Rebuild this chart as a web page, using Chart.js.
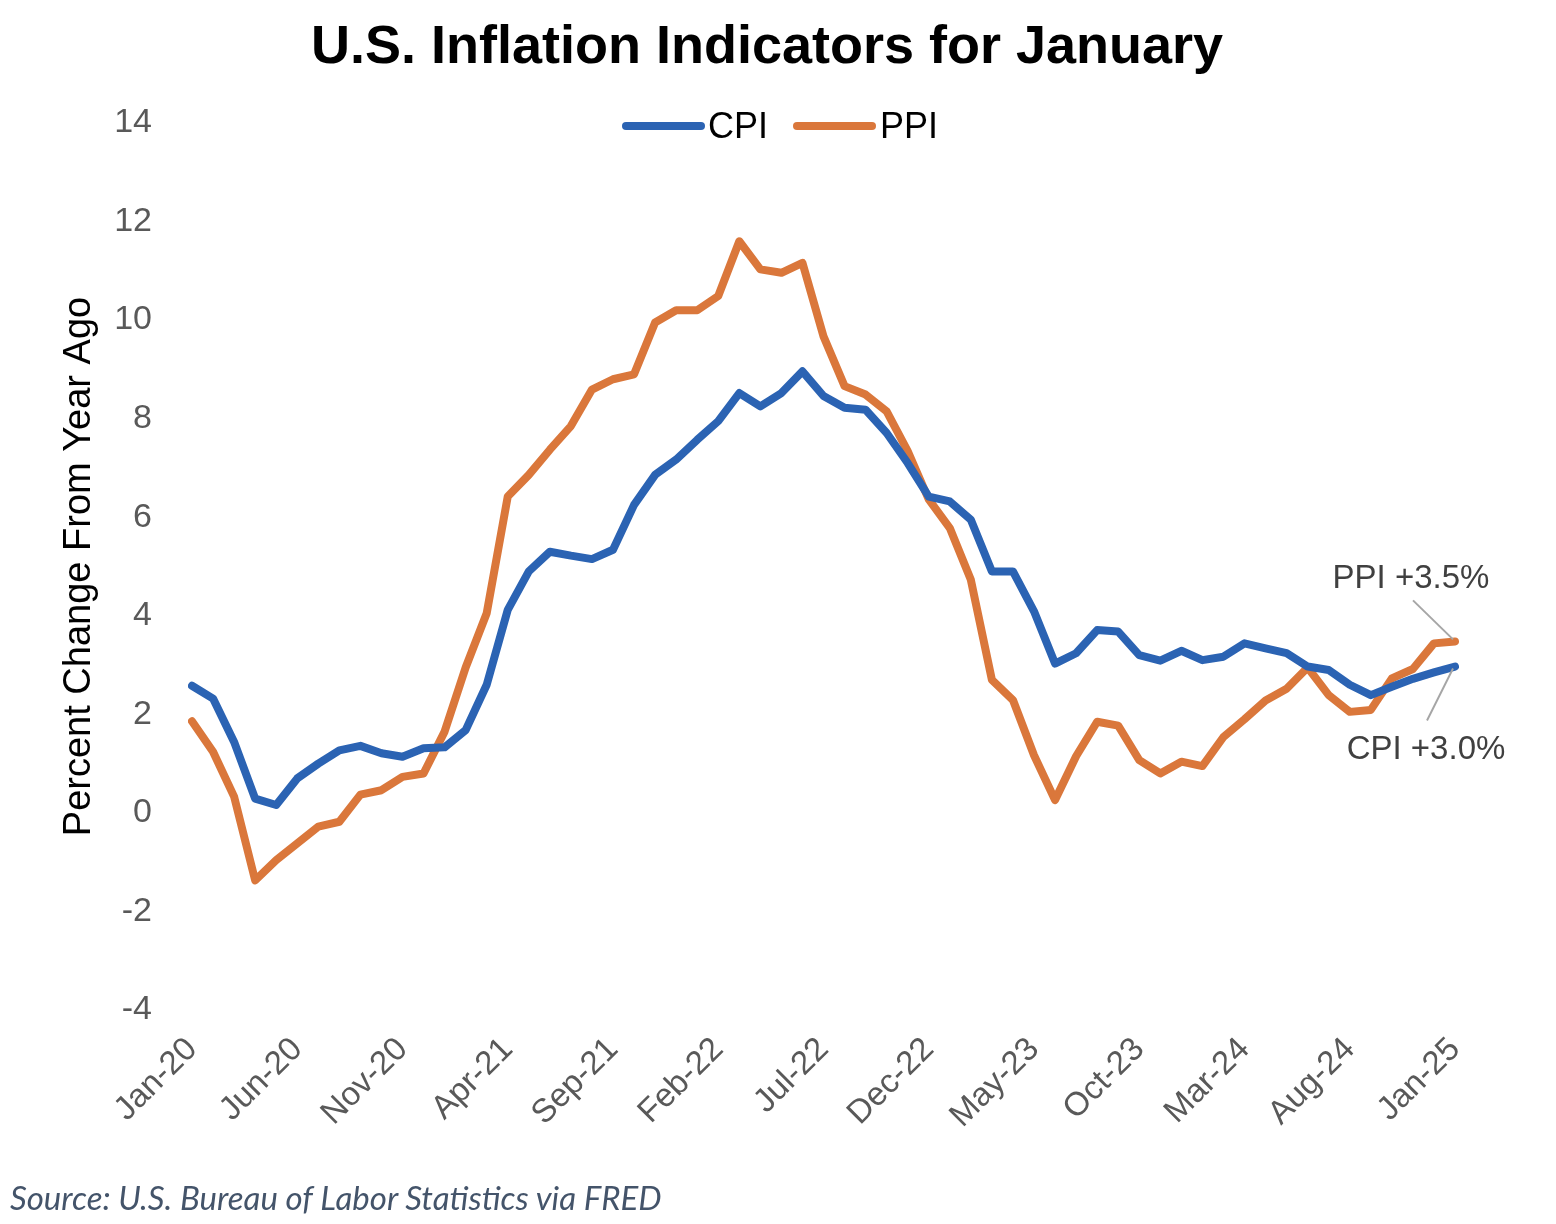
<!DOCTYPE html>
<html>
<head>
<meta charset="utf-8">
<script src="https://cdn.jsdelivr.net/npm/chart.js@4.4.1/dist/chart.umd.min.js"></script>
<style>
  body { margin: 0; background: #fff; }
  #wrap { position: relative; width: 1556px; height: 1224px; font-family: "Liberation Sans", Arial, sans-serif; }
  #chart { position: absolute; left: 0; top: 0; }
  .title { position: absolute; left: 0; top: 17px; width: 1534px; text-align: center; font-weight: bold; font-size: 54px; line-height: 1; color: #000; }
  .swatch { position: absolute; height: 8px; border-radius: 4px; }
  .legtext { position: absolute; font-size: 36px; line-height: 1; color: #000; }
  .source { position: absolute; left: 10px; top: 1181px; font-family: Lato, "Open Sans", sans-serif; font-style: italic; font-size: 33px; line-height: 1; color: #44546A; }
</style>
</head>
<body>
<div id="wrap">
  <canvas id="chart" width="1556" height="1224"></canvas>
  <div class="title">U.S. Inflation Indicators for January</div>
  <div id="legend"></div>
  <div class="source">Source: U.S. Bureau of Labor Statistics via FRED</div>
</div>
<script>
const months = [
  "Jan-20", "Feb-20", "Mar-20", "Apr-20", "May-20", "Jun-20", "Jul-20", "Aug-20", "Sep-20", "Oct-20", "Nov-20", "Dec-20",
  "Jan-21", "Feb-21", "Mar-21", "Apr-21", "May-21", "Jun-21", "Jul-21", "Aug-21", "Sep-21", "Oct-21", "Nov-21", "Dec-21",
  "Jan-22", "Feb-22", "Mar-22", "Apr-22", "May-22", "Jun-22", "Jul-22", "Aug-22", "Sep-22", "Oct-22", "Nov-22", "Dec-22",
  "Jan-23", "Feb-23", "Mar-23", "Apr-23", "May-23", "Jun-23", "Jul-23", "Aug-23", "Sep-23", "Oct-23", "Nov-23", "Dec-23",
  "Jan-24", "Feb-24", "Mar-24", "Apr-24", "May-24", "Jun-24", "Jul-24", "Aug-24", "Sep-24", "Oct-24", "Nov-24", "Dec-24",
  "Jan-25"
];

const cpi = [
  2.58, 2.32, 1.44, 0.29, 0.16, 0.70, 1.00, 1.27, 1.36, 1.21, 1.14, 1.31,
  1.33, 1.68, 2.60, 4.12, 4.90, 5.30, 5.22, 5.15, 5.34, 6.25, 6.86, 7.17,
  7.57, 7.95, 8.52, 8.25, 8.52, 8.96, 8.46, 8.22, 8.18, 7.71, 7.10, 6.42,
  6.32, 5.95, 4.90, 4.90, 4.09, 3.03, 3.24, 3.71, 3.68, 3.20, 3.09, 3.29,
  3.10, 3.17, 3.44, 3.34, 3.24, 2.97, 2.90, 2.60, 2.39, 2.56, 2.72, 2.85,
  2.97
];

const ppi = [
  1.86, 1.24, 0.33, -1.37, -0.96, -0.62, -0.28, -0.18, 0.37, 0.46, 0.73, 0.80,
  1.65, 2.95, 4.05, 6.42, 6.86, 7.37, 7.85, 8.59, 8.80, 8.90, 9.95, 10.20,
  10.20, 10.49, 11.60, 11.03, 10.96, 11.16, 9.67, 8.66, 8.49, 8.15, 7.34, 6.36,
  5.78, 4.73, 2.70, 2.29, 1.17, 0.26, 1.15, 1.85, 1.77, 1.07, 0.80, 1.04,
  0.95, 1.54, 1.90, 2.28, 2.52, 2.95, 2.39, 2.05, 2.09, 2.73, 2.92, 3.44,
  3.48
];

const seriesNames = ["CPI", "PPI"];
const seriesColors = ["#2B63B3", "#DA773B"];
const endLabels = ["CPI +3.0%", "PPI +3.5%"];
const yTicks = [-4, -2, 0, 2, 4, 6, 8, 10, 12, 14];

const fontFamily = '"Liberation Sans", Arial, sans-serif';

// legend (html, built from the series)
const legend = document.getElementById("legend");
const legendX = [[622, 708], [793, 880]];
seriesNames.forEach((name, i) => {
  const sw = document.createElement("div");
  sw.className = "swatch";
  sw.style.left = legendX[i][0] + "px";
  sw.style.top = "122px";
  sw.style.width = "83px";
  sw.style.background = seriesColors[i];
  legend.appendChild(sw);
  const tx = document.createElement("div");
  tx.className = "legtext";
  tx.style.left = legendX[i][1] + "px";
  tx.style.top = "108px";
  tx.textContent = name;
  legend.appendChild(tx);
});

// callout labels at the last point of each line
const endLabelPlugin = {
  id: "endLabels",
  afterDatasetsDraw(chart) {
    const ctx = chart.ctx;
    const offsets = [
      { line: [[-2, 2], [-28, 54]], text: [-29, 92] },
      { line: [[-2, -2], [-42, -41]], text: [-44, -53] }
    ];
    ctx.save();
    chart.data.datasets.forEach((ds, i) => {
      const pts = chart.getDatasetMeta(i).data;
      const p = pts[pts.length - 1];
      const o = offsets[i];
      ctx.strokeStyle = "#A6A6A6";
      ctx.lineWidth = 2;
      ctx.beginPath();
      ctx.moveTo(p.x + o.line[0][0], p.y + o.line[0][1]);
      ctx.lineTo(p.x + o.line[1][0], p.y + o.line[1][1]);
      ctx.stroke();
      ctx.fillStyle = "#404040";
      ctx.font = "33px " + fontFamily;
      ctx.textAlign = "center";
      ctx.textBaseline = "alphabetic";
      ctx.fillText(endLabels[i], p.x + o.text[0], p.y + o.text[1]);
    });
    ctx.restore();
  }
};

new Chart(document.getElementById("chart"), {
  type: "line",
  data: {
    labels: months,
    datasets: seriesNames.map((name, i) => ({
      label: name,
      data: i === 0 ? cpi : ppi,
      borderColor: seriesColors[i],
      backgroundColor: seriesColors[i],
      borderWidth: 8,
      borderJoinStyle: "round",
      borderCapStyle: "round",
      pointRadius: 0,
      tension: 0,
      fill: false
    }))
  },
  options: {
    responsive: false,
    animation: false,
    layout: { padding: { top: 123, left: 0, right: 101, bottom: 0 } },
    plugins: {
      legend: { display: false },
      title: { display: false },
      tooltip: { enabled: false }
    },
    scales: {
      x: {
        grid: { display: false, drawTicks: false },
        border: { display: false },
        ticks: {
          autoSkip: false,
          maxRotation: 45,
          minRotation: 45,
          padding: 20,
          color: "#595959",
          font: { family: fontFamily, size: 33 },
          callback: (v, i) => (i % 5 === 0 ? months[i] : null)
        },
        afterFit: scale => { scale.height = 214; }
      },
      y: {
        min: -4,
        max: 14,
        grid: { display: false, drawTicks: false },
        border: { display: false },
        afterBuildTicks: scale => { scale.ticks = yTicks.map(v => ({ value: v })); },
        ticks: {
          padding: 40,
          color: "#595959",
          font: { family: fontFamily, size: 34 }
        },
        title: {
          display: true,
          text: "Percent Change From Year Ago",
          color: "#000",
          font: { family: fontFamily, size: 38 },
          padding: { top: 57, bottom: 0 }
        },
        afterFit: scale => { scale.width = 192; }
      }
    }
  },
  plugins: [endLabelPlugin]
});
</script>
</body>
</html>
